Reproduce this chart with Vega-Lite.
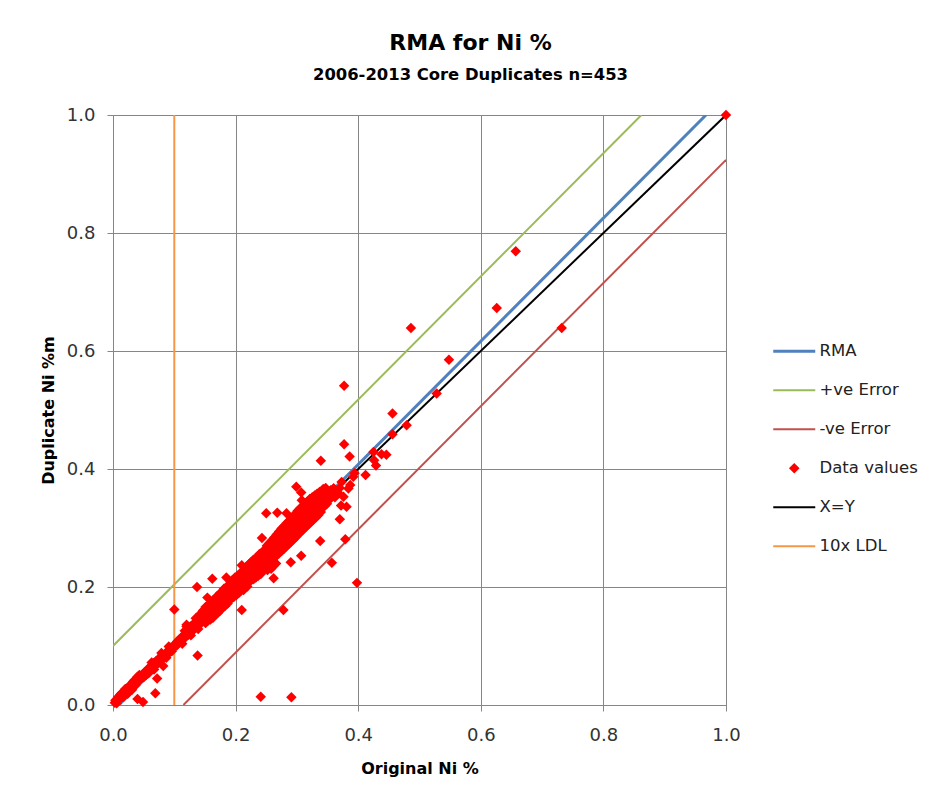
{
  "$schema": "https://vega.github.io/schema/vega-lite/v6.json",
  "width": 613,
  "height": 590,
  "autosize": {"type": "none"},
  "padding": {"left": 113, "top": 115, "right": 208, "bottom": 98},
  "background": "white",
  "title": {
    "text": "RMA for Ni %",
    "subtitle": "2006-2013 Core Duplicates n=453",
    "font": "DejaVu Sans",
    "fontSize": 22,
    "fontWeight": "bold",
    "color": "#000000",
    "subtitleFont": "DejaVu Sans",
    "subtitleFontSize": 16.4,
    "subtitleFontWeight": "bold",
    "subtitleColor": "#000000",
    "subtitlePadding": 12,
    "anchor": "middle",
    "dx": 51,
    "offset": 22
  },
  "config": {
    "view": {"stroke": "#868686", "strokeWidth": 1},
    "axis": {
      "grid": true,
      "gridColor": "#868686",
      "gridWidth": 1,
      "gridOpacity": 1,
      "domainColor": "#868686",
      "domainWidth": 1,
      "tickColor": "#868686",
      "tickSize": 6,
      "labelFlush": false,
      "labelFont": "DejaVu Sans",
      "labelFontSize": 18,
      "labelColor": "#333333",
      "titleFont": "DejaVu Sans",
      "titleFontSize": 16,
      "titleFontWeight": "bold",
      "titleColor": "#000000"
    }
  },
  "datasets": {
    "fit_lines": [
      {"series": "RMA", "orig": 0.0096, "dup": 0.0},
      {"series": "RMA", "orig": 0.9674, "dup": 1.0},
      {"series": "+ve Error", "orig": 0.0, "dup": 0.1},
      {"series": "+ve Error", "orig": 0.862, "dup": 1.0},
      {"series": "-ve Error", "orig": 0.1149, "dup": 0.0},
      {"series": "-ve Error", "orig": 1.0, "dup": 0.924}
    ],
    "ref_lines": [
      {"series": "X=Y", "orig": 0.0, "dup": 0.0},
      {"series": "X=Y", "orig": 1.0, "dup": 1.0},
      {"series": "10x LDL", "orig": 0.1, "dup": 0.0},
      {"series": "10x LDL", "orig": 0.1, "dup": 1.0}
    ],
    "duplicates": [
      {"orig":0.003,"dup":0.004},{"orig":0.004,"dup":0.008},{"orig":0.005,"dup":0.006},{"orig":0.006,"dup":0.003},{"orig":0.007,"dup":0.009},{"orig":0.008,"dup":0.007},{"orig":0.009,"dup":0.011},{"orig":0.010,"dup":0.010},{"orig":0.011,"dup":0.014},{"orig":0.012,"dup":0.012},{"orig":0.013,"dup":0.016},{"orig":0.014,"dup":0.013},{"orig":0.015,"dup":0.018},{"orig":0.016,"dup":0.015},{"orig":0.017,"dup":0.020},{"orig":0.018,"dup":0.017},{"orig":0.019,"dup":0.022},{"orig":0.020,"dup":0.019},{"orig":0.021,"dup":0.024},{"orig":0.022,"dup":0.022},{"orig":0.023,"dup":0.026},{"orig":0.024,"dup":0.024},{"orig":0.025,"dup":0.028},{"orig":0.026,"dup":0.025},{"orig":0.027,"dup":0.030},{"orig":0.028,"dup":0.033},{"orig":0.029,"dup":0.028},{"orig":0.030,"dup":0.034},{"orig":0.031,"dup":0.031},{"orig":0.032,"dup":0.036},{"orig":0.033,"dup":0.033},{"orig":0.034,"dup":0.038},{"orig":0.035,"dup":0.035},{"orig":0.036,"dup":0.040},{"orig":0.038,"dup":0.039},{"orig":0.039,"dup":0.043},{"orig":0.041,"dup":0.040},{"orig":0.042,"dup":0.045},{"orig":0.044,"dup":0.043},{"orig":0.012,"dup":0.018},{"orig":0.017,"dup":0.014},{"orig":0.026,"dup":0.032},{"orig":0.035,"dup":0.042},{"orig":0.040,"dup":0.048},
      {"orig":0.008,"dup":0.013},{"orig":0.014,"dup":0.020},{"orig":0.020,"dup":0.027},{"orig":0.024,"dup":0.019},{"orig":0.031,"dup":0.026},{"orig":0.033,"dup":0.040},{"orig":0.037,"dup":0.034},{"orig":0.043,"dup":0.051},
      {"orig":0.046,"dup":0.048},{"orig":0.048,"dup":0.052},{"orig":0.050,"dup":0.047},{"orig":0.052,"dup":0.056},{"orig":0.054,"dup":0.051},{"orig":0.056,"dup":0.060},{"orig":0.058,"dup":0.062},{"orig":0.060,"dup":0.057},{"orig":0.062,"dup":0.066},{"orig":0.064,"dup":0.061},{"orig":0.066,"dup":0.071},{"orig":0.068,"dup":0.067},{"orig":0.070,"dup":0.074},{"orig":0.072,"dup":0.069},{"orig":0.074,"dup":0.077},{"orig":0.076,"dup":0.080},{"orig":0.078,"dup":0.075},{"orig":0.080,"dup":0.084},{"orig":0.082,"dup":0.066},{"orig":0.084,"dup":0.082},{"orig":0.086,"dup":0.088},{"orig":0.088,"dup":0.085},{"orig":0.090,"dup":0.092},{"orig":0.092,"dup":0.089},{"orig":0.094,"dup":0.097},{"orig":0.096,"dup":0.091},{"orig":0.098,"dup":0.100},{"orig":0.058,"dup":0.054},
      {"orig":0.063,"dup":0.072},{"orig":0.079,"dup":0.088},{"orig":0.087,"dup":0.080},{"orig":0.091,"dup":0.099},{"orig":0.067,"dup":0.060},
      {"orig":0.100,"dup":0.098},{"orig":0.102,"dup":0.104},{"orig":0.104,"dup":0.101},{"orig":0.105,"dup":0.108},{"orig":0.107,"dup":0.105},{"orig":0.108,"dup":0.111},{"orig":0.110,"dup":0.108},{"orig":0.111,"dup":0.114},{"orig":0.113,"dup":0.110},{"orig":0.114,"dup":0.117},{"orig":0.116,"dup":0.113},{"orig":0.117,"dup":0.120},{"orig":0.118,"dup":0.115},{"orig":0.120,"dup":0.124},{"orig":0.121,"dup":0.119},{"orig":0.122,"dup":0.130},{"orig":0.124,"dup":0.121},{"orig":0.125,"dup":0.127},{"orig":0.126,"dup":0.133},{"orig":0.128,"dup":0.125},{"orig":0.129,"dup":0.131},{"orig":0.130,"dup":0.136},{"orig":0.132,"dup":0.128},{"orig":0.133,"dup":0.134},{"orig":0.134,"dup":0.140},{"orig":0.136,"dup":0.132},{"orig":0.137,"dup":0.138},{"orig":0.138,"dup":0.144},{"orig":0.140,"dup":0.136},{"orig":0.141,"dup":0.142},{"orig":0.142,"dup":0.149},{"orig":0.144,"dup":0.139},{"orig":0.145,"dup":0.146},{"orig":0.146,"dup":0.152},{"orig":0.148,"dup":0.143},{"orig":0.149,"dup":0.150},{"orig":0.120,"dup":0.136},{"orig":0.131,"dup":0.127},{"orig":0.123,"dup":0.119},{"orig":0.135,"dup":0.147},
      {"orig":0.113,"dup":0.104},{"orig":0.127,"dup":0.118},{"orig":0.139,"dup":0.129},{"orig":0.143,"dup":0.155},{"orig":0.147,"dup":0.160},{"orig":0.117,"dup":0.126},
      {"orig":0.151,"dup":0.156},{"orig":0.151,"dup":0.139},{"orig":0.151,"dup":0.166},{"orig":0.153,"dup":0.146},{"orig":0.153,"dup":0.161},{"orig":0.155,"dup":0.163},{"orig":0.155,"dup":0.143},{"orig":0.155,"dup":0.157},{"orig":0.157,"dup":0.150},{"orig":0.157,"dup":0.171},{"orig":0.159,"dup":0.160},{"orig":0.159,"dup":0.145},{"orig":0.159,"dup":0.170},{"orig":0.161,"dup":0.172},{"orig":0.161,"dup":0.152},{"orig":0.163,"dup":0.158},{"orig":0.163,"dup":0.177},{"orig":0.163,"dup":0.148},{"orig":0.165,"dup":0.168},{"orig":0.165,"dup":0.155},{"orig":0.167,"dup":0.180},{"orig":0.167,"dup":0.157},{"orig":0.167,"dup":0.169},{"orig":0.169,"dup":0.161},{"orig":0.169,"dup":0.184},{"orig":0.171,"dup":0.172},{"orig":0.171,"dup":0.156},{"orig":0.171,"dup":0.181},{"orig":0.173,"dup":0.186},{"orig":0.173,"dup":0.164},{"orig":0.175,"dup":0.174},{"orig":0.175,"dup":0.190},{"orig":0.175,"dup":0.160},{"orig":0.177,"dup":0.181},{"orig":0.177,"dup":0.166},{"orig":0.179,"dup":0.193},{"orig":0.179,"dup":0.171},{"orig":0.179,"dup":0.183},{"orig":0.181,"dup":0.174},{"orig":0.181,"dup":0.197},{"orig":0.183,"dup":0.186},{"orig":0.183,"dup":0.168},{"orig":0.183,"dup":0.195},{"orig":0.185,"dup":0.196},{"orig":0.185,"dup":0.177},{"orig":0.187,"dup":0.188},{"orig":0.187,"dup":0.202},{"orig":0.187,"dup":0.172},{"orig":0.189,"dup":0.198},{"orig":0.189,"dup":0.180},{"orig":0.191,"dup":0.186},{"orig":0.191,"dup":0.205},{"orig":0.191,"dup":0.194},{"orig":0.193,"dup":0.197},{"orig":0.193,"dup":0.180},{"orig":0.195,"dup":0.203},{"orig":0.195,"dup":0.186},{"orig":0.195,"dup":0.212},{"orig":0.197,"dup":0.198},{"orig":0.197,"dup":0.183},{"orig":0.199,"dup":0.206},{"orig":0.199,"dup":0.190},{"orig":0.199,"dup":0.216},
      {"orig":0.201,"dup":0.199},{"orig":0.201,"dup":0.213},{"orig":0.201,"dup":0.186},{"orig":0.203,"dup":0.207},{"orig":0.203,"dup":0.219},{"orig":0.205,"dup":0.198},{"orig":0.205,"dup":0.214},{"orig":0.205,"dup":0.190},{"orig":0.207,"dup":0.221},{"orig":0.207,"dup":0.203},{"orig":0.209,"dup":0.209},{"orig":0.209,"dup":0.194},{"orig":0.209,"dup":0.225},{"orig":0.211,"dup":0.215},{"orig":0.211,"dup":0.199},{"orig":0.213,"dup":0.226},{"orig":0.213,"dup":0.210},{"orig":0.213,"dup":0.195},{"orig":0.215,"dup":0.216},{"orig":0.215,"dup":0.230},{"orig":0.217,"dup":0.205},{"orig":0.217,"dup":0.221},{"orig":0.217,"dup":0.234},{"orig":0.219,"dup":0.218},{"orig":0.219,"dup":0.201},{"orig":0.221,"dup":0.226},{"orig":0.221,"dup":0.209},{"orig":0.221,"dup":0.238},{"orig":0.223,"dup":0.215},{"orig":0.223,"dup":0.233},{"orig":0.225,"dup":0.228},{"orig":0.225,"dup":0.211},{"orig":0.225,"dup":0.242},{"orig":0.227,"dup":0.219},{"orig":0.227,"dup":0.237},{"orig":0.229,"dup":0.231},{"orig":0.229,"dup":0.213},{"orig":0.229,"dup":0.246},{"orig":0.231,"dup":0.238},{"orig":0.231,"dup":0.220},{"orig":0.233,"dup":0.229},{"orig":0.233,"dup":0.249},{"orig":0.233,"dup":0.216},{"orig":0.235,"dup":0.240},{"orig":0.235,"dup":0.222},{"orig":0.237,"dup":0.251},{"orig":0.237,"dup":0.232},{"orig":0.237,"dup":0.219},{"orig":0.239,"dup":0.240},{"orig":0.239,"dup":0.256},{"orig":0.241,"dup":0.233},{"orig":0.241,"dup":0.250},{"orig":0.241,"dup":0.222},{"orig":0.243,"dup":0.255},{"orig":0.243,"dup":0.238},{"orig":0.245,"dup":0.244},{"orig":0.245,"dup":0.261},{"orig":0.245,"dup":0.229},{"orig":0.247,"dup":0.253},{"orig":0.247,"dup":0.236},{"orig":0.249,"dup":0.245},{"orig":0.249,"dup":0.264},{"orig":0.249,"dup":0.231},{"orig":0.252,"dup":0.229},{"orig":0.258,"dup":0.231},{"orig":0.262,"dup":0.236},{"orig":0.266,"dup":0.240},
      {"orig":0.251,"dup":0.255},{"orig":0.251,"dup":0.238},{"orig":0.251,"dup":0.270},{"orig":0.253,"dup":0.247},{"orig":0.253,"dup":0.265},{"orig":0.255,"dup":0.259},{"orig":0.255,"dup":0.240},{"orig":0.255,"dup":0.274},{"orig":0.257,"dup":0.252},{"orig":0.257,"dup":0.270},{"orig":0.259,"dup":0.265},{"orig":0.259,"dup":0.245},{"orig":0.259,"dup":0.279},{"orig":0.261,"dup":0.256},{"orig":0.261,"dup":0.275},{"orig":0.263,"dup":0.271},{"orig":0.263,"dup":0.249},{"orig":0.263,"dup":0.284},{"orig":0.265,"dup":0.262},{"orig":0.265,"dup":0.280},{"orig":0.267,"dup":0.274},{"orig":0.267,"dup":0.254},{"orig":0.267,"dup":0.289},{"orig":0.269,"dup":0.265},{"orig":0.269,"dup":0.285},{"orig":0.271,"dup":0.279},{"orig":0.271,"dup":0.257},{"orig":0.271,"dup":0.294},{"orig":0.273,"dup":0.270},{"orig":0.273,"dup":0.290},{"orig":0.275,"dup":0.283},{"orig":0.275,"dup":0.261},{"orig":0.275,"dup":0.299},{"orig":0.277,"dup":0.274},{"orig":0.277,"dup":0.294},{"orig":0.279,"dup":0.287},{"orig":0.279,"dup":0.265},{"orig":0.279,"dup":0.303},{"orig":0.281,"dup":0.279},{"orig":0.281,"dup":0.299},{"orig":0.283,"dup":0.292},{"orig":0.283,"dup":0.269},{"orig":0.283,"dup":0.308},{"orig":0.285,"dup":0.283},{"orig":0.285,"dup":0.303},{"orig":0.287,"dup":0.296},{"orig":0.287,"dup":0.273},{"orig":0.287,"dup":0.312},{"orig":0.289,"dup":0.287},{"orig":0.289,"dup":0.308},{"orig":0.291,"dup":0.301},{"orig":0.291,"dup":0.277},{"orig":0.291,"dup":0.316},{"orig":0.293,"dup":0.291},{"orig":0.293,"dup":0.312},{"orig":0.295,"dup":0.305},{"orig":0.295,"dup":0.281},{"orig":0.295,"dup":0.321},{"orig":0.297,"dup":0.296},{"orig":0.297,"dup":0.317},{"orig":0.299,"dup":0.309},{"orig":0.299,"dup":0.285},{"orig":0.299,"dup":0.325},
      {"orig":0.301,"dup":0.300},{"orig":0.301,"dup":0.315},{"orig":0.301,"dup":0.329},{"orig":0.303,"dup":0.310},{"orig":0.303,"dup":0.290},{"orig":0.305,"dup":0.318},{"orig":0.305,"dup":0.297},{"orig":0.305,"dup":0.333},{"orig":0.307,"dup":0.312},{"orig":0.307,"dup":0.294},{"orig":0.309,"dup":0.322},{"orig":0.309,"dup":0.302},{"orig":0.309,"dup":0.337},{"orig":0.311,"dup":0.316},{"orig":0.311,"dup":0.298},{"orig":0.313,"dup":0.326},{"orig":0.313,"dup":0.306},{"orig":0.313,"dup":0.341},{"orig":0.315,"dup":0.320},{"orig":0.315,"dup":0.302},{"orig":0.317,"dup":0.330},{"orig":0.317,"dup":0.310},{"orig":0.317,"dup":0.345},{"orig":0.319,"dup":0.324},{"orig":0.319,"dup":0.306},{"orig":0.321,"dup":0.334},{"orig":0.321,"dup":0.314},{"orig":0.321,"dup":0.349},{"orig":0.323,"dup":0.328},{"orig":0.323,"dup":0.310},{"orig":0.325,"dup":0.338},{"orig":0.325,"dup":0.318},{"orig":0.325,"dup":0.352},{"orig":0.327,"dup":0.332},{"orig":0.327,"dup":0.314},{"orig":0.329,"dup":0.341},{"orig":0.329,"dup":0.322},{"orig":0.329,"dup":0.355},{"orig":0.331,"dup":0.336},{"orig":0.331,"dup":0.318},{"orig":0.333,"dup":0.345},{"orig":0.333,"dup":0.326},{"orig":0.333,"dup":0.358},{"orig":0.335,"dup":0.340},{"orig":0.335,"dup":0.322},{"orig":0.337,"dup":0.348},{"orig":0.337,"dup":0.330},{"orig":0.337,"dup":0.361},{"orig":0.339,"dup":0.344},{"orig":0.339,"dup":0.327},{"orig":0.341,"dup":0.352},{"orig":0.341,"dup":0.334},{"orig":0.341,"dup":0.363},{"orig":0.343,"dup":0.348},{"orig":0.343,"dup":0.366},{"orig":0.345,"dup":0.356},{"orig":0.345,"dup":0.337},{"orig":0.345,"dup":0.362},{"orig":0.347,"dup":0.352},{"orig":0.347,"dup":0.368},{"orig":0.349,"dup":0.359},{"orig":0.349,"dup":0.341},
      {"orig":0.351,"dup":0.361},{"orig":0.353,"dup":0.348},{"orig":0.355,"dup":0.364},{"orig":0.357,"dup":0.355},{"orig":0.360,"dup":0.367},{"orig":0.362,"dup":0.352},{"orig":0.365,"dup":0.362},{"orig":0.368,"dup":0.359},{"orig":0.370,"dup":0.368},{"orig":0.373,"dup":0.378},{"orig":0.376,"dup":0.353},{"orig":0.381,"dup":0.336},{"orig":0.384,"dup":0.367},{"orig":0.387,"dup":0.373},{"orig":0.392,"dup":0.387},{"orig":0.394,"dup":0.393},
      {"orig":1.0,"dup":1.0},{"orig":0.657,"dup":0.769},{"orig":0.626,"dup":0.673},{"orig":0.732,"dup":0.639},{"orig":0.486,"dup":0.639},{"orig":0.548,"dup":0.585},{"orig":0.528,"dup":0.528},{"orig":0.377,"dup":0.541},{"orig":0.479,"dup":0.474},{"orig":0.456,"dup":0.494},{"orig":0.456,"dup":0.459},{"orig":0.377,"dup":0.442},{"orig":0.386,"dup":0.421},{"orig":0.339,"dup":0.414},{"orig":0.425,"dup":0.429},{"orig":0.438,"dup":0.425},{"orig":0.446,"dup":0.424},{"orig":0.426,"dup":0.415},{"orig":0.429,"dup":0.406},{"orig":0.412,"dup":0.390},{"orig":0.398,"dup":0.207},{"orig":0.379,"dup":0.281},{"orig":0.357,"dup":0.241},{"orig":0.338,"dup":0.278},{"orig":0.372,"dup":0.338},{"orig":0.370,"dup":0.315},{"orig":0.250,"dup":0.325},{"orig":0.268,"dup":0.326},{"orig":0.299,"dup":0.370},{"orig":0.307,"dup":0.360},{"orig":0.290,"dup":0.242},{"orig":0.307,"dup":0.253},{"orig":0.262,"dup":0.215},{"orig":0.210,"dup":0.237},{"orig":0.278,"dup":0.161},{"orig":0.210,"dup":0.161},{"orig":0.162,"dup":0.214},{"orig":0.137,"dup":0.200},{"orig":0.185,"dup":0.216},{"orig":0.100,"dup":0.162},{"orig":0.154,"dup":0.182},{"orig":0.138,"dup":0.084},{"orig":0.120,"dup":0.133},{"orig":0.069,"dup":0.020},{"orig":0.049,"dup":0.005},{"orig":0.040,"dup":0.010},{"orig":0.241,"dup":0.014},{"orig":0.291,"dup":0.013},{"orig":0.072,"dup":0.045},{"orig":0.243,"dup":0.283},{"orig":0.283,"dup":0.325},{"orig":0.308,"dup":0.347},{"orig":0.327,"dup":0.347},{"orig":0.343,"dup":0.364},{"orig":0.360,"dup":0.367}
    ]
  },
  "encoding": {
    "x": {
      "field": "orig",
      "type": "quantitative",
      "title": "Original Ni %",
      "scale": {"domain": [0, 1], "nice": false, "zero": false},
      "axis": {"values": [0, 0.2, 0.4, 0.6, 0.8, 1.0], "format": ".1f", "labelPadding": 15, "titlePadding": 16}
    },
    "y": {
      "field": "dup",
      "type": "quantitative",
      "title": "Duplicate Ni %m",
      "scale": {"domain": [0, 1], "nice": false, "zero": false},
      "axis": {"values": [0, 0.2, 0.4, 0.6, 0.8, 1.0], "format": ".1f", "labelPadding": 12, "titlePadding": 10}
    }
  },
  "layer": [
    {
      "data": {"name": "fit_lines"},
      "mark": {"type": "line", "clip": true},
      "encoding": {
        "color": {
          "field": "series",
          "type": "nominal",
          "scale": {
            "domain": ["RMA", "+ve Error", "-ve Error", "Data values", "X=Y", "10x LDL"],
            "range": ["#4F81BD", "#9BBB59", "#C0504D", "#FF0000", "#000000", "#F79646"]
          },
          "legend": {
            "title": null,
            "orient": "none",
            "legendX": 673,
            "legendY": 228,
            "symbolType": "stroke",
            "symbolSize": 1764,
            "symbolStrokeWidth": 2,
            "labelFont": "DejaVu Sans",
            "labelFontSize": 16.5,
            "labelColor": "#222222",
            "labelOffset": 17,
            "rowPadding": 22,
            "encode": {
              "symbols": {
                "update": {
                  "shape": {"signal": "datum.value === 'Data values' ? 'diamond' : 'stroke'"},
                  "size": {"signal": "datum.value === 'Data values' ? 60 : 1764"},
                  "fill": {"signal": "datum.value === 'Data values' ? '#FF0000' : 'transparent'"},
                  "stroke": {"scale": "color", "field": "value"},
                  "strokeWidth": {"signal": "datum.value === 'RMA' ? 3 : 2"},
                  "opacity": {"value": 1}
                }
              }
            }
          }
        },
        "strokeWidth": {"condition": {"test": "datum.series === 'RMA'", "value": 3}, "value": 2}
      }
    },
    {
      "data": {"name": "ref_lines"},
      "mark": {"type": "line", "clip": true, "strokeWidth": 2},
      "encoding": {
        "color": {"field": "series", "type": "nominal"}
      }
    },
    {
      "data": {"name": "duplicates"},
      "mark": {"type": "point", "shape": "diamond", "filled": true, "size": 110, "opacity": 1, "strokeWidth": 0},
      "encoding": {
        "color": {"datum": "Data values", "type": "nominal"}
      }
    }
  ]
}
